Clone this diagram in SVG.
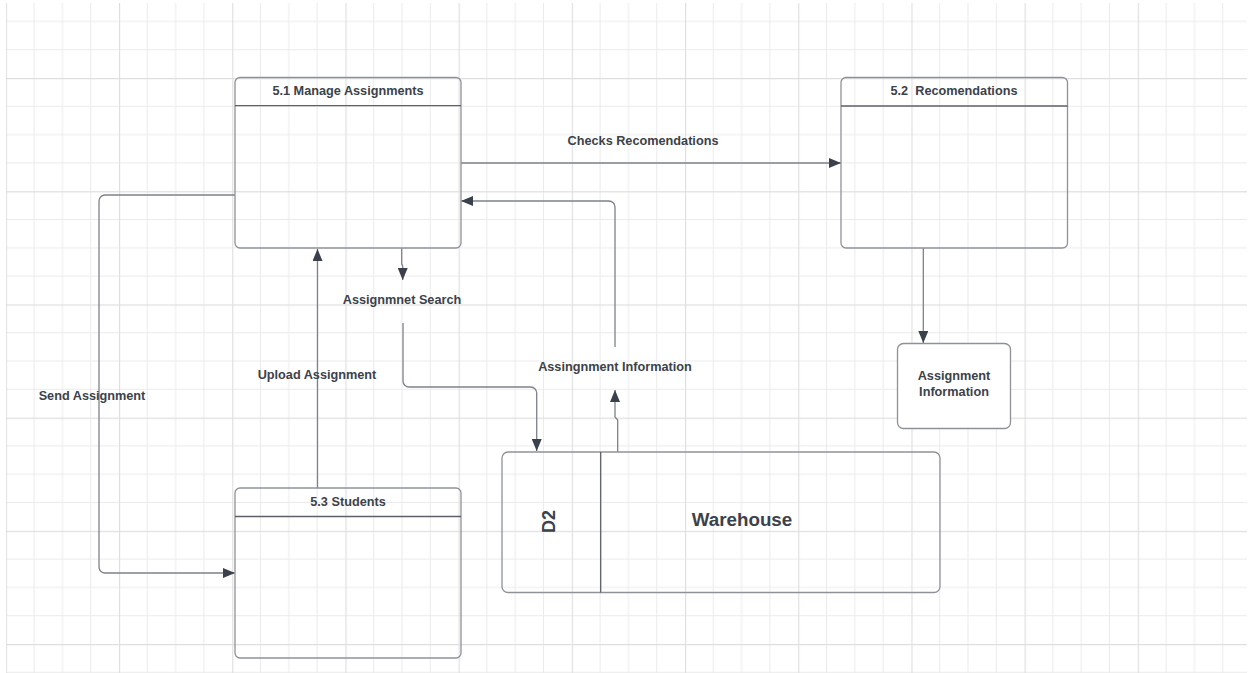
<svg xmlns="http://www.w3.org/2000/svg" width="1251" height="673" viewBox="0 0 1251 673">
<defs>
<pattern id="grid" patternUnits="userSpaceOnUse" x="5.8" y="-35.2" width="113.2" height="113.2">
<path d="M28.3 0V113.2M56.6 0V113.2M84.9 0V113.2M0 28.3H113.2M0 56.6H113.2M0 84.9H113.2" stroke="#ebebeb" stroke-width="1" fill="none"/>
<path d="M0.5 0V113.2M0 0.5H113.2" stroke="#dfdfdf" stroke-width="1.3" fill="none"/>
</pattern>
<marker id="arr" viewBox="0 0 12 10" refX="12" refY="5" markerWidth="12" markerHeight="10" markerUnits="userSpaceOnUse" orient="auto">
<path d="M0 0L12 5L0 10Z" fill="#3a414a"/>
</marker>
<style>
.box{fill:none;stroke:#8e9298;stroke-width:1.3}
.solid{fill:#fff}
.div{stroke:#5c6168;stroke-width:1.3}
.t{font-family:"Liberation Sans",Arial,sans-serif;font-weight:bold;font-size:12.7px;fill:#3b424a;text-anchor:middle}
.c{fill:none;stroke:#7d828a;stroke-width:1.3}
</style>
</defs>
<rect x="0" y="0" width="1251" height="673" fill="#fff"/>
<rect x="6" y="3" width="1241" height="670" fill="url(#grid)"/>

<g id="connectors">
<path class="c" d="M461 163H841" marker-end="url(#arr)"/>
<text class="t" x="643" y="145">Checks Recomendations</text>
<path class="c" d="M615 347V207a6 6 0 0 0-6-6H461" marker-end="url(#arr)"/>
<path class="c" d="M617.7 452V420l-2.7-3V390" marker-end="url(#arr)"/>
<text class="t" x="615" y="371">Assingnment Information</text>
<path class="c" d="M401.7 248V264l1 2V280" marker-end="url(#arr)"/>
<text class="t" x="402" y="304">Assignmnet Search</text>
<path class="c" d="M403 323V381a6 6 0 0 0 6 6H530.7a6 6 0 0 1 6 6V451" marker-end="url(#arr)"/>
<path class="c" d="M317.5 488V249" marker-end="url(#arr)"/>
<text class="t" x="317" y="379">Upload Assignment</text>
<path class="c" d="M235 195H105a6 6 0 0 0-6 6V567a6 6 0 0 0 6 6H235" marker-end="url(#arr)"/>
<text class="t" x="92" y="400">Send Assignment</text>
<path class="c" d="M923.3 248V343" marker-end="url(#arr)"/>
</g>

<g id="n51">
<rect class="box" x="235" y="77.5" width="226" height="170.5" rx="5"/>
<line class="div" x1="235" y1="105.7" x2="461" y2="105.7"/>
<text class="t" x="348" y="95">5.1 Manage Assignments</text>
</g>
<g id="n52">
<rect class="box" x="841" y="77.5" width="226.5" height="170.5" rx="5"/>
<line class="div" x1="841" y1="106" x2="1067.5" y2="106"/>
<text class="t" x="954" y="95" xml:space="preserve">5.2  Recomendations</text>
</g>
<g id="n53">
<rect class="box" x="235" y="488" width="226" height="170" rx="5"/>
<line class="div" x1="235" y1="516.5" x2="461" y2="516.5"/>
<text class="t" x="348" y="505.5">5.3 Students</text>
</g>
<g id="info">
<rect class="box solid" x="897.5" y="343.5" width="113" height="85" rx="6"/>
<text class="t" x="954" y="380">Assignment</text>
<text class="t" x="954" y="396">Information</text>
</g>
<g id="d2">
<rect class="box" x="502" y="452" width="438" height="140.5" rx="6"/>
<line class="div" x1="600.7" y1="452" x2="600.7" y2="592.5"/>
<text class="t" style="font-size:18px" transform="translate(554.5 521.5) rotate(-90)">D2</text>
<text class="t" style="font-size:18.8px" x="742" y="525.5">Warehouse</text>
</g>
</svg>
